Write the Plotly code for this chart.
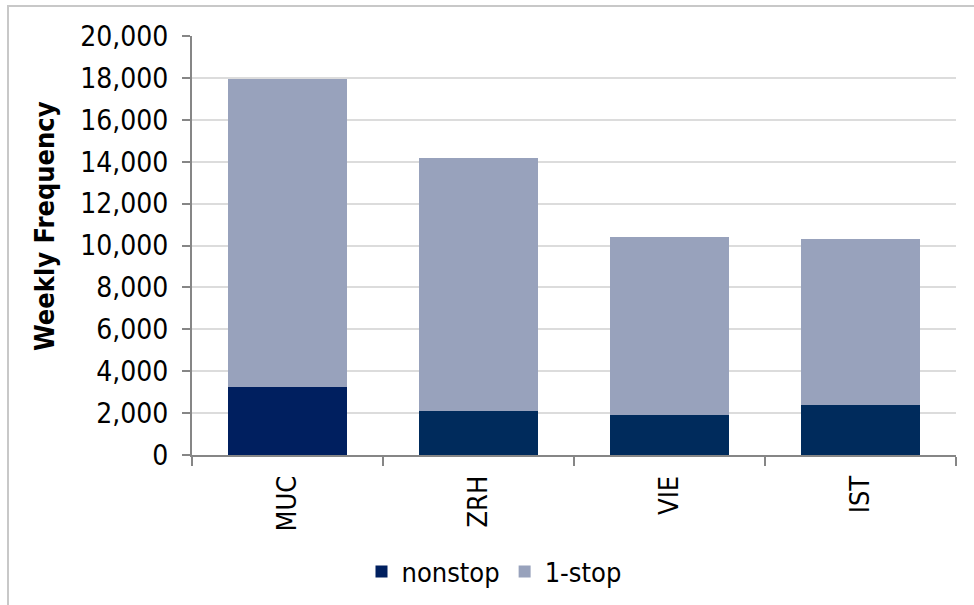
import plotly.graph_objects as go

# Weekly frequencies by hub airport
airports = ["MUC", "ZRH", "VIE", "IST"]
nonstop = [3250, 2100, 1900, 2390]
one_stop = [14700, 12080, 8500, 7940]
nonstop_colors = ["#001F5F", "#002B5C", "#002B5C", "#002B5C"]
y_ticks = [0, 2000, 4000, 6000, 8000, 10000, 12000, 14000, 16000, 18000, 20000]

FONT = "DejaVu Sans Condensed, DejaVu Sans, Open Sans, sans-serif"

W, H = 974, 605
ML, MR, MT, MB = 192, 18, 36, 150
PW, PH = W - ML - MR, H - MT - MB


def px_x(px):
    return (px - ML) / PW


def px_y(py):
    return (H - MB - py) / PH


fig = go.Figure()
fig.add_trace(go.Bar(
    x=airports, y=nonstop, name="nonstop",
    marker=dict(color=nonstop_colors, line=dict(width=0)),
))
fig.add_trace(go.Bar(
    x=airports, y=one_stop, name="1-stop",
    marker=dict(color="#98A2BC", line=dict(width=0)),
))

fig.update_layout(
    width=W, height=H,
    margin=dict(l=ML, r=MR, t=MT, b=MB, autoexpand=False),
    barmode="stack",
    bargap=0.377,
    plot_bgcolor="white",
    paper_bgcolor="white",
    font=dict(family=FONT, color="black", size=28),
    showlegend=True,
    legend=dict(
        orientation="h",
        xref="container", yref="container",
        x=494 / W, xanchor="center",
        y=1 - 572 / H, yanchor="middle",
        font=dict(size=27, family=FONT),
        traceorder="normal",
        itemwidth=30,
    ),
    xaxis=dict(
        type="category",
        tickangle=-90,
        tickfont=dict(size=27),
        showline=True, linecolor="#868686", linewidth=2,
        ticks="outside", ticklen=9, tickcolor="#868686", tickwidth=2,
        tickson="boundaries",
        showgrid=False,
        ticklabelstandoff=8,
        automargin=False,
    ),
    yaxis=dict(
        range=[0, 20000],
        tickvals=y_ticks,
        tickformat=",d",
        tickfont=dict(size=28),
        showline=True, linecolor="#868686", linewidth=2,
        ticks="outside", ticklen=8, tickcolor="#868686", tickwidth=2,
        showgrid=True, gridcolor="#DCDCDC", gridwidth=2,
        zeroline=False,
        ticklabelstandoff=8,
        automargin=False,
    ),
    annotations=[dict(
        text="<b>Weekly Frequency</b>",
        x=px_x(44), y=px_y(226),
        xref="paper", yref="paper",
        xanchor="center", yanchor="middle",
        textangle=-90, showarrow=False,
        font=dict(size=27, family=FONT, color="black"),
    )],
    shapes=[dict(
        type="rect", xref="paper", yref="paper",
        x0=px_x(8), x1=px_x(990),
        y0=px_y(6), y1=px_y(640),
        line=dict(color="#C8C8C8", width=2),
        fillcolor="rgba(0,0,0,0)",
        layer="below",
    )],
)

fig.write_html("out.html")
